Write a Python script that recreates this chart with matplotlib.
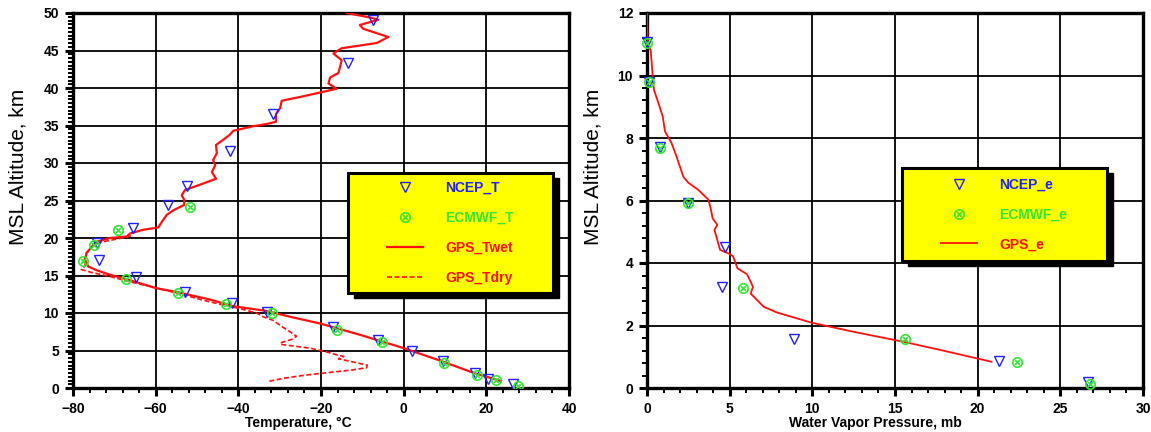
import matplotlib
matplotlib.use("Agg")
import matplotlib.pyplot as plt
from matplotlib.patches import Rectangle
from matplotlib.ticker import MultipleLocator

plt.rcParams['font.family'] = ['Liberation Sans', 'DejaVu Sans']
plt.rcParams['font.weight'] = 'bold'

# ---- temperature profile (left panel) ----
twet_alt = [0.93, 2.0, 3.5, 5.3, 7.1, 8.6, 9.4, 10.3, 10.9, 11.8, 12.3, 12.8, 13.3, 13.7,
            14.5, 15.1, 15.7, 16.2, 17.1, 18.0, 18.8, 19.5, 20.0, 20.2, 20.6, 21.1, 21.4,
            22.4, 23.1, 23.7, 24.4, 25.1, 25.7, 26.4, 27.1, 27.9, 28.8, 29.7, 30.4, 31.3,
            32.4, 32.8, 33.7, 34.3, 34.9, 35.2, 35.5, 36.5, 37.3, 38.3, 38.8, 39.3, 39.9,
            40.6, 41.4, 42.0, 42.8, 43.7, 44.6, 45.3, 46.0, 46.8, 47.9, 48.4, 49.1, 49.4, 50.0]
twet_t = [23.5, 17.0, 9.6, 0.1, -10.6, -20.2, -26.7, -33.5, -41.2, -46.9, -50.9, -54.9, -59.8, -62.2,
          -67.0, -71.0, -74.3, -76.3, -77.1, -76.7, -75.5, -74.3, -71.0, -67.0, -66.2, -63.0, -59.4,
          -58.2, -57.3, -55.7, -53.1, -53.1, -53.7, -52.9, -49.3, -45.4, -46.4, -45.6, -46.1, -45.2,
          -45.4, -44.4, -42.2, -41.2, -36.4, -33.1, -30.9, -30.9, -29.9, -29.5, -25.1, -21.0, -16.2,
          -18.2, -17.8, -15.8, -15.4, -15.0, -17.0, -15.0, -6.5, -3.7, -9.8, -10.6, -6.1, -8.1, -13.8]

tdry_alt = [0.9, 1.3, 1.7, 2.1, 2.4, 2.7, 3.05, 3.5, 3.9, 4.2, 4.4, 4.8, 5.3, 5.8, 6.0, 6.5, 6.9,
            7.5, 8.2, 9.0, 9.5, 10.0, 10.5, 11.0, 11.5, 12.0, 12.5, 13.0, 13.5, 14.0, 14.5, 15.0,
            15.4, 15.8, 16.3, 17.0, 18.0, 18.8, 19.4, 19.8, 20.1, 20.4]
tdry_t = [-32.5, -29.0, -24.0, -17.5, -12.5, -9.0, -8.8, -12.5, -15.8, -14.5, -16.0, -18.6, -22.5,
          -29.5, -29.9, -27.0, -25.9, -27.5, -29.5, -31.5, -34.0, -35.6, -39.0, -43.0, -47.0, -50.5,
          -53.5, -57.5, -61.0, -65.0, -68.5, -72.0, -75.5, -78.0, -77.0, -77.3, -76.8, -75.5, -73.5,
          -70.0, -67.0, -65.5]

ncep_t_alt = [0.5, 1.2, 1.96, 3.6, 4.9, 6.4, 8.2, 10.2, 11.4, 12.8, 14.8, 17.1, 19.4, 21.3,
              24.4, 26.9, 31.6, 36.6, 43.3, 49.1]
ncep_t = [26.4, 20.5, 17.3, 9.6, 2.0, -6.1, -17.2, -33.1, -41.5, -52.9, -64.8, -73.6, -74.1, -65.6,
          -57.1, -52.3, -41.9, -31.5, -13.4, -7.3]

ecmwf_t_alt = [0.3, 1.07, 1.7, 3.3, 6.2, 7.8, 10.0, 11.2, 12.7, 14.6, 17.0, 19.1, 21.1, 24.2]
ecmwf_t = [27.7, 22.3, 17.8, 9.8, -5.3, -16.2, -31.9, -43.0, -54.5, -67.2, -77.7, -74.8, -69.0, -51.7]

# ---- water vapour profile (right panel) ----
gps_e_alt = [0.84, 1.22, 1.48, 1.80, 2.09, 2.42, 2.60, 3.02, 3.24, 3.64, 3.83, 4.22, 4.30, 4.42,
             5.06, 5.22, 5.43, 5.75, 6.03, 6.34, 6.57, 6.76, 7.40, 7.83, 8.21, 8.69, 9.12, 9.54,
             10.02, 10.82, 11.03, 11.56, 12.0]
gps_e = [20.84, 17.72, 15.5, 12.48, 9.96, 7.84, 7.06, 6.27, 6.41, 6.05, 5.47, 5.2, 4.95, 4.42,
         4.08, 4.25, 3.97, 3.85, 3.71, 3.10, 2.50, 2.20, 1.79, 1.49, 1.09, 0.95, 0.69, 0.42,
         0.34, 0.22, 0.05, 0.02, 0.0]

ncep_e_alt = [0.2, 0.87, 1.58, 3.24, 4.50, 5.93, 7.72, 9.80, 11.07]
ncep_e = [26.7, 21.3, 8.9, 4.52, 4.7, 2.5, 0.79, 0.14, 0.0]

ecmwf_e_alt = [0.13, 0.84, 1.57, 3.21, 5.93, 7.69, 9.80, 11.03]
ecmwf_e = [26.8, 22.4, 15.6, 5.8, 2.5, 0.79, 0.14, 0.0]

blue = '#1f1fff'
green = '#33e633'
red = '#ff1010'

fig = plt.figure(figsize=(11.51, 4.32), dpi=100)
ax1 = fig.add_axes([73 / 1151, 44 / 432, 496 / 1151, 375 / 432])
ax2 = fig.add_axes([647 / 1151, 44 / 432, 496 / 1151, 375 / 432])


def style_axes(ax, xmaj, xmin, ymaj, ymin):
    ax.xaxis.set_major_locator(MultipleLocator(xmaj))
    ax.xaxis.set_minor_locator(MultipleLocator(xmin))
    ax.yaxis.set_major_locator(MultipleLocator(ymaj))
    ax.yaxis.set_minor_locator(MultipleLocator(ymin))
    ax.grid(True, which='major', color='black', linewidth=1.3)
    ax.set_axisbelow(True)
    for s in ax.spines.values():
        s.set_linewidth(2.4)
    ax.tick_params(which='major', direction='out', length=6, width=2.2,
                   labelsize=10, pad=4)
    ax.tick_params(which='minor', direction='out', length=3.5, width=1.4)


def legend_box(ax, x0, y0, w, h):
    # shadow + yellow box like the original plotting package
    ax.add_patch(Rectangle((x0 + 0.012, y0 - 0.014), w, h, transform=ax.transAxes,
                           facecolor='black', edgecolor='black', zorder=5, clip_on=False))
    ax.add_patch(Rectangle((x0, y0), w, h, transform=ax.transAxes, facecolor='yellow',
                           edgecolor='black', linewidth=2.2, zorder=6, clip_on=False))


# left panel
ax1.plot(twet_t, twet_alt, color=red, linewidth=1.6, label='GPS_Twet', zorder=3)
ax1.plot(tdry_t, tdry_alt, color=red, linewidth=1.2, linestyle=(0, (3, 1.5)),
         label='GPS_Tdry', zorder=3)
ax1.plot(ncep_t, ncep_t_alt, linestyle='none', marker='v', markersize=7, markerfacecolor='none',
         markeredgecolor=blue, markeredgewidth=1.0, label='NCEP_T', zorder=4)
ax1.plot(ecmwf_t, ecmwf_t_alt, linestyle='none', marker=r'$\otimes$', markersize=8,
         markeredgewidth=0, color=green, label='ECMWF_T', zorder=4)
ax1.set_xlim(-80, 40)
ax1.set_ylim(0, 50)
style_axes(ax1, 20, 4, 5, 0.5)
ax1.set_xlabel('Temperature, °C', fontsize=10, fontweight='bold', labelpad=2)
ax1.xaxis.set_label_coords(0.455, -0.075)
ax1.set_ylabel('MSL Altitude, km', fontsize=15, fontweight='normal')
ax1.yaxis.set_label_coords(-0.091, 0.59)

legend_box(ax1, 0.554, 0.253, 0.414, 0.32)
h, l = ax1.get_legend_handles_labels()
order = [2, 3, 0, 1]
leg1 = ax1.legend([h[i] for i in order], [l[i] for i in order], loc='center',
                  bbox_to_anchor=(0.554 + 0.207, 0.253 + 0.16), frameon=False,
                  prop={'weight': 'bold', 'size': 10}, labelspacing=1.15,
                  handlelength=2.6, handletextpad=1.6,
                  labelcolor=[blue, green, red, red])
leg1.set_zorder(7)

# right panel
ax2.plot(gps_e, gps_e_alt, color=red, linewidth=1.3, label='GPS_e', zorder=3)
ax2.plot(ncep_e, ncep_e_alt, linestyle='none', marker='v', markersize=7, markerfacecolor='none',
         markeredgecolor=blue, markeredgewidth=1.0, label='NCEP_e', zorder=4, clip_on=False)
ax2.plot(ecmwf_e, ecmwf_e_alt, linestyle='none', marker=r'$\otimes$', markersize=8,
         markeredgewidth=0, color=green, label='ECMWF_e', zorder=4, clip_on=False)
ax2.set_xlim(0, 30)
ax2.set_ylim(0, 12)
style_axes(ax2, 5, 1, 2, 0.4)
ax2.set_xlabel('Water Vapor Pressure, mb', fontsize=10, fontweight='bold', labelpad=2)
ax2.xaxis.set_label_coords(0.46, -0.075)
ax2.set_ylabel('MSL Altitude, km', fontsize=15, fontweight='normal')
ax2.yaxis.set_label_coords(-0.089, 0.59)

legend_box(ax2, 0.514, 0.339, 0.413, 0.248)
h, l = ax2.get_legend_handles_labels()
order = [1, 2, 0]
leg2 = ax2.legend([h[i] for i in order], [l[i] for i in order], loc='center',
                  bbox_to_anchor=(0.514 + 0.2065, 0.339 + 0.124), frameon=False,
                  prop={'weight': 'bold', 'size': 10}, labelspacing=1.15,
                  handlelength=2.6, handletextpad=1.6,
                  labelcolor=[blue, green, red])
leg2.set_zorder(7)

plt.savefig('out.png', dpi=100)
